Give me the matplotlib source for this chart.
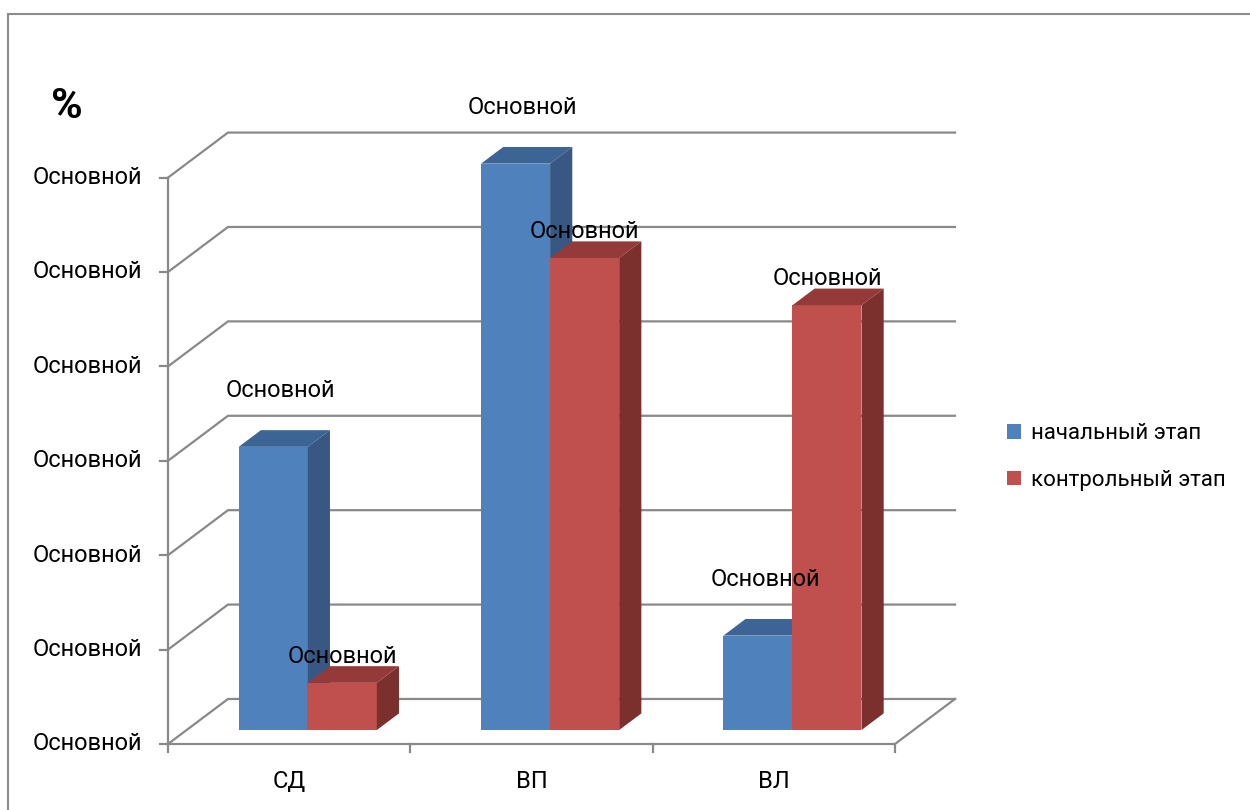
import matplotlib
matplotlib.use("Agg")
import matplotlib.pyplot as plt
from matplotlib.patches import Polygon, Rectangle, Patch

plt.rcParams['font.family'] = ['Roboto', 'DejaVu Sans']

# data
categories = ['СД', 'ВП', 'ВЛ']
series_names = ['начальный этап', 'контрольный этап']
start_vals = [3.0, 6.0, 1.0]
control_vals = [0.5, 5.0, 4.5]
tick_levels = [0, 1, 2, 3, 4, 5, 6]
tick_text = 'Основной'
label_text = 'Основной'

# colours: front, top, side
BLUE = ('#4F81BD', '#3C6494', '#385782')
RED = ('#C0504D', '#943A38', '#7C302E')
GRID = '#898989'

# 3-D look: full depth offset of the box, and where the bars sit in it
DX, DY = 0.2476, 0.477
F0, F1 = 0.31, 0.68
BAR_W = 0.285
FS = 17

fig = plt.figure(figsize=(12.5, 8.1), dpi=100, facecolor='white')
ax = fig.add_axes([0, 0, 1, 1])
ax.set_xlim(-168 / 242.33, (1250 - 168) / 242.33)
ax.set_ylim((744 - 810) / 94.4, 744 / 94.4)
ax.axis('off')

# outer chart border
fig.add_artist(Rectangle((8 / 1250, -0.05), 1.1, 1.05 - 14 / 810,
                         transform=fig.transFigure, fill=False,
                         edgecolor='#8c8c8c', lw=1.5))

ncat = len(categories)
# walls and gridlines
for v in tick_levels:
    ax.plot([0, DX, ncat + DX], [v, v + DY, v + DY], color=GRID, lw=1.6,
            solid_joinstyle='miter', zorder=1)
    ax.plot([-8 / 242.33, 0], [v, v], color=GRID, lw=1.6, zorder=1)
    ax.text(-26 / 242.33, v, tick_text, ha='right', va='center',
            fontsize=FS, color='black')
# floor front and right edges
ax.plot([0, ncat, ncat + DX], [0, 0, DY], color=GRID, lw=1.6,
        solid_joinstyle='miter', zorder=1)
ax.plot([0, 0], [0, tick_levels[-1]], color=GRID, lw=1.6, zorder=1)
for i in range(ncat + 1):
    ax.plot([i, i], [0, -8 / 94.4], color=GRID, lw=1.6, zorder=1)
for i, c in enumerate(categories):
    ax.text(i + 0.5, -37 / 94.4, c, ha='center', va='center', fontsize=FS)


def draw_bar(x0, val, cols, z):
    front, top, side = cols
    bx = x0 + F0 * DX
    by = F0 * DY
    ddx = (F1 - F0) * DX
    ddy = (F1 - F0) * DY
    ax.add_patch(Polygon([(bx, by), (bx + BAR_W, by), (bx + BAR_W, by + val),
                          (bx, by + val)], closed=True, facecolor=front,
                         edgecolor='none', zorder=z))
    ax.add_patch(Polygon([(bx, by + val), (bx + BAR_W, by + val),
                          (bx + BAR_W + ddx, by + val + ddy),
                          (bx + ddx, by + val + ddy)], closed=True,
                         facecolor=top, edgecolor='none', zorder=z))
    ax.add_patch(Polygon([(bx + BAR_W, by), (bx + BAR_W + ddx, by + ddy),
                          (bx + BAR_W + ddx, by + val + ddy),
                          (bx + BAR_W, by + val)], closed=True,
                         facecolor=side, edgecolor='none', zorder=z))
    return bx + BAR_W / 2, by + val


z = 3
for i in range(ncat):
    cx, top = draw_bar(i + 0.5 - BAR_W, start_vals[i], BLUE, z)
    ax.text(cx + 0.03, top + 0.6, label_text, ha='center', va='center',
            fontsize=FS, zorder=20)
    z += 1
    cx, top = draw_bar(i + 0.5, control_vals[i], RED, z)
    ax.text(cx, top + 0.28, label_text, ha='center', va='center',
            fontsize=FS, zorder=20)
    z += 1

ax.text(-101 / 242.33, (744 - 106) / 94.4, '%', ha='center', va='center',
        fontsize=31, fontweight='bold')

handles = [Patch(facecolor=BLUE[0]), Patch(facecolor=RED[0])]
fig.legend(handles, series_names, loc='center left',
           bbox_to_anchor=(987 / 1250, 1 - 457 / 810), frameon=False,
           fontsize=16, handlelength=0.65, handleheight=0.65,
           handletextpad=0.45, labelspacing=1.15)

fig.savefig('out.png', dpi=100, facecolor='white')
